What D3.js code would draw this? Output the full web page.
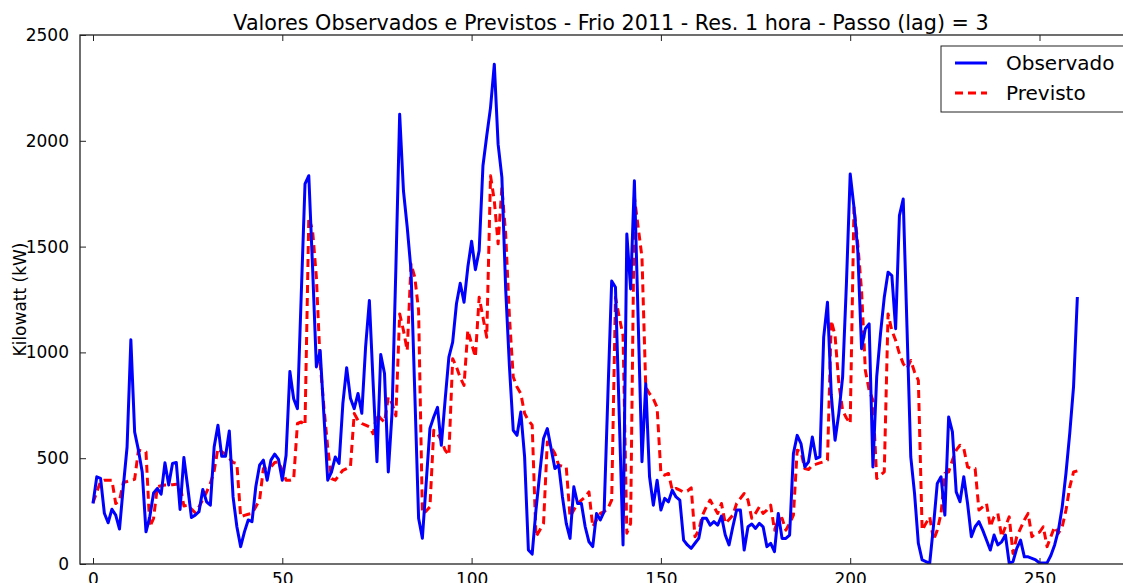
<!DOCTYPE html>
<html>
<head>
<meta charset="utf-8">
<script src="https://cdn.jsdelivr.net/npm/d3@7/dist/d3.min.js"></script>
<style>
  html, body { margin: 0; padding: 0; background: #fff; overflow: hidden; }
  svg { display: block; font-family: "DejaVu Sans", sans-serif; }
</style>
</head>
<body>
<svg id="chart" width="1123" height="583"></svg>
<script>
// Hourly load, winter 2011 (kW)
const observado = [
  286, 412, 405, 240, 195, 259, 231, 165, 365, 553,
  1060, 624, 538, 435, 152, 223, 336, 357, 330, 478,
  373, 475, 480, 258, 503, 365, 220, 231, 247, 352,
  294, 278, 553, 656, 509, 509, 629, 317, 176, 82,
  152, 208, 200, 365, 467, 491, 396, 491, 519, 494,
  396, 514, 910, 781, 734, 1270, 1796, 1835, 1400, 931,
  1009, 700, 396, 435, 506, 475, 759, 928, 783, 734,
  806, 712, 1025, 1245, 852, 483, 990, 900, 435, 718,
  1400, 2125, 1764, 1591, 1387, 806, 216, 122, 382, 641,
  695, 740, 561, 773, 978, 1049, 1230, 1327, 1237, 1402,
  1525, 1391, 1481, 1882, 2024, 2157, 2362, 1984, 1827, 1300,
  931, 632, 608, 718, 506, 66, 47, 255, 428, 593,
  640, 546, 451, 467, 317, 192, 121, 365, 286, 286,
  176, 105, 82, 239, 208, 247, 800, 1337, 1308, 700,
  90, 1560, 1300, 1811, 1150, 483, 852, 412, 278, 396,
  255, 310, 294, 349, 317, 302, 113, 90, 74, 98,
  121, 216, 216, 184, 200, 184, 226, 137, 90, 176,
  255, 255, 66, 176, 189, 168, 192, 176, 82, 98,
  58, 239, 121, 121, 137, 522, 608, 569, 459, 483,
  600, 498, 506, 1072, 1237, 800, 585, 712, 884, 1324,
  1843, 1685, 1481, 1017, 1112, 1135, 459, 884, 1088, 1261,
  1379, 1363, 1112, 1646, 1725, 1119, 506, 333, 98, 19,
  11, 3, 180, 381, 412, 231, 695, 624, 341, 294,
  412, 286, 129, 176, 200, 160, 113, 66, 137, 90,
  105, 137, 3, 11, 74, 113, 34, 34, 27, 19,
  5, 5, 5, 40, 90, 160, 270, 430, 620, 840,
  1262
];

const previsto = [
  289, 340, 390, 396, 396, 396, 286, 300, 385, 390,
  396, 400, 538, 535, 530, 176, 216, 365, 370, 373,
  373, 375, 377, 377, 274, 278, 260, 242, 270, 305,
  340, 381, 440, 546, 530, 519, 500, 480, 475, 223,
  230, 235, 239, 270, 302, 451, 455, 459, 480, 483,
  443, 396, 396, 400, 664, 671, 656, 1638, 1575, 1355,
  950, 740, 550, 404, 396, 420, 443, 451, 459, 711,
  679, 664, 656, 648, 616, 711, 687, 671, 789, 758,
  700, 1182, 1104, 1009, 1418, 1355, 1198, 239, 250, 270,
  632, 616, 585, 538, 514, 970, 931, 880, 844, 1104,
  1041, 978, 1261, 1166, 1072, 1835, 1717, 1513, 1780, 1560,
  1166, 884, 836, 805, 711, 679, 656, 129, 160, 192,
  577, 553, 522, 467, 462, 459, 223, 255, 286, 302,
  317, 341, 176, 208, 239, 247, 263, 302, 1261, 1166,
  1080, 145, 192, 1733, 1591, 1450, 836, 805, 781, 740,
  428, 420, 428, 349, 357, 349, 340, 345, 360, 129,
  160, 231, 270, 302, 270, 239, 286, 192, 210, 231,
  286, 310, 333, 302, 216, 240, 270, 239, 255, 278,
  160, 208, 216, 160, 192, 231, 538, 530, 451, 447,
  467, 472, 478, 483, 491, 1150, 1080, 852, 726, 690,
  664, 1685, 1513, 1292, 915, 821, 774, 404, 420, 435,
  1182, 1104, 1057, 994, 947, 923, 962, 907, 868, 160,
  192, 223, 113, 160, 239, 428, 435, 491, 538, 561,
  546, 459, 451, 451, 255, 270, 286, 176, 223, 239,
  129, 176, 223, 50, 129, 168, 208, 239, 129, 145,
  150, 176, 82, 129, 176, 145, 176, 255, 365, 435,
  440
];

const xTicks = [0, 50, 100, 150, 200, 250];
const yTicks = [0, 500, 1000, 1500, 2000, 2500];

const titulo = "Valores Observados e Previstos - Frio 2011 - Res. 1 hora - Passo (lag) = 3";
const rotuloY = "Kilowatt (kW)";
const series = [
  { nome: "Observado", valores: observado, cor: "#0000ff", traco: null },
  { nome: "Previsto", valores: previsto, cor: "#ff0000", traco: "8,5" }
];

const svg = d3.select("#chart");
const plot = { left: 80, top: 35, right: 1165, bottom: 564 };

const x = d3.scaleLinear().domain([0, 250]).range([93, 1039.5]);
const y = d3.scaleLinear().domain([0, 2500]).range([plot.bottom, plot.top]);

svg.append("defs").append("clipPath").attr("id", "area")
  .append("rect")
  .attr("x", plot.left).attr("y", plot.top)
  .attr("width", plot.right - plot.left).attr("height", plot.bottom - plot.top);

// data lines
const linha = d3.line().x((d, i) => x(i)).y(d => y(d));
const g = svg.append("g").attr("clip-path", "url(#area)");
series.slice().reverse().forEach(s => {
  g.append("path")
    .datum(s.valores)
    .attr("fill", "none")
    .attr("stroke", s.cor)
    .attr("stroke-width", 3)
    .attr("stroke-linejoin", "round")
    .attr("stroke-dasharray", s.traco)
    .attr("d", linha);
});

// frame
svg.append("rect")
  .attr("x", plot.left).attr("y", plot.top)
  .attr("width", plot.right - plot.left).attr("height", plot.bottom - plot.top)
  .attr("fill", "none").attr("stroke", "#222").attr("stroke-width", 1.3);

// axes with inward ticks
const axB = svg.append("g").attr("transform", `translate(0,${plot.bottom})`)
  .call(d3.axisBottom(x).tickValues(xTicks).tickSize(-6).tickPadding(9).tickFormat(d3.format("d")));
const axT = svg.append("g").attr("transform", `translate(0,${plot.top})`)
  .call(d3.axisTop(x).tickValues(xTicks).tickSize(-6).tickFormat(""));
const axL = svg.append("g").attr("transform", `translate(${plot.left},0)`)
  .call(d3.axisLeft(y).tickValues(yTicks).tickSize(-6).tickPadding(11).tickFormat(d3.format("d")));
[axB, axT, axL].forEach(a => {
  a.select(".domain").remove();
  a.selectAll(".tick line").attr("stroke", "#222");
  a.selectAll(".tick text").attr("fill", "#000").attr("font-size", 17).attr("font-family", "DejaVu Sans");
});

// title
svg.append("text")
  .attr("x", 611).attr("y", 30)
  .attr("text-anchor", "middle")
  .attr("font-size", 20.7)
  .attr("fill", "#000")
  .text(titulo);

// y label
svg.append("text")
  .attr("transform", `translate(26,${(plot.top + plot.bottom) / 2}) rotate(-90)`)
  .attr("text-anchor", "middle")
  .attr("font-size", 17)
  .attr("fill", "#000")
  .text(rotuloY);

// legend
const leg = svg.append("g");
leg.append("rect")
  .attr("x", 941).attr("y", 46).attr("width", 240).attr("height", 66)
  .attr("fill", "#fff").attr("stroke", "#222").attr("stroke-width", 1);
series.forEach((s, i) => {
  const yy = 63 + i * 30;
  leg.append("line")
    .attr("x1", 955).attr("x2", 987).attr("y1", yy).attr("y2", yy)
    .attr("stroke", s.cor).attr("stroke-width", 3)
    .attr("stroke-dasharray", s.traco);
  leg.append("text")
    .attr("x", 1006).attr("y", yy + 7)
    .attr("font-size", 20).attr("fill", "#000")
    .text(s.nome);
});
</script>
</body>
</html>
